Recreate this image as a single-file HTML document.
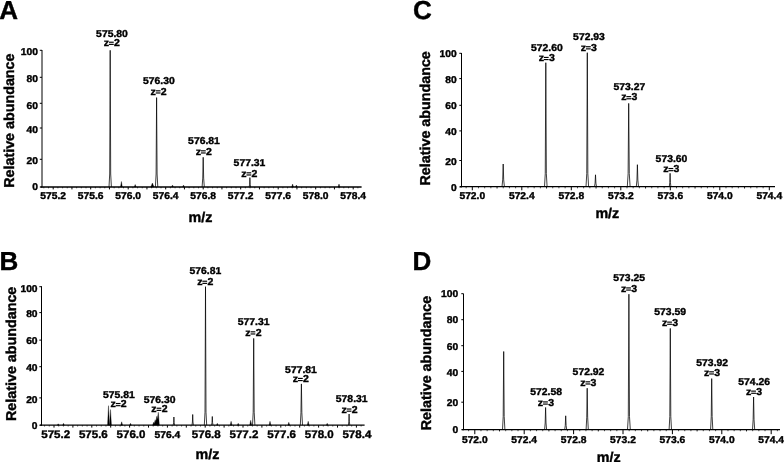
<!DOCTYPE html>
<html>
<head>
<meta charset="utf-8">
<title>Mass spectra</title>
<style>
html, body { margin: 0; padding: 0; background: #fff; }
body { width: 784px; height: 462px; overflow: hidden; font-family: "Liberation Sans", sans-serif; }
svg { display: block; will-change: transform; }
svg text { font-family: "Liberation Sans", sans-serif; font-weight: bold; fill: #000; stroke: #000; stroke-width: 0.4px; text-rendering: geometricPrecision; }
</style>
</head>
<body>
<svg width="784" height="462" viewBox="0 0 784 462">
<rect x="0" y="0" width="784" height="462" fill="#fff"/>
<text x="-0.8" y="19.2" font-size="26" stroke-width="0.6">A</text>
<line x1="42" y1="50" x2="42" y2="187.6" stroke="#000" stroke-width="1"/>
<line x1="40.5" y1="187" x2="361.6" y2="187" stroke="#000" stroke-width="1.3"/>
<line x1="39.8" y1="50.3" x2="42" y2="50.3" stroke="#000" stroke-width="1"/>
<text transform="translate(38,54.6) scale(1,0.96)" font-size="10.3" text-anchor="end">100</text>
<line x1="39.8" y1="77.3" x2="42" y2="77.3" stroke="#000" stroke-width="1"/>
<text transform="translate(38,81.9) scale(1,0.96)" font-size="10.3" text-anchor="end">80</text>
<line x1="39.8" y1="103.3" x2="42" y2="103.3" stroke="#000" stroke-width="1"/>
<text transform="translate(38,108.7) scale(1,0.96)" font-size="10.3" text-anchor="end">60</text>
<line x1="39.8" y1="128" x2="42" y2="128" stroke="#000" stroke-width="1"/>
<text transform="translate(38,133) scale(1,0.96)" font-size="10.3" text-anchor="end">40</text>
<line x1="39.8" y1="159.3" x2="42" y2="159.3" stroke="#000" stroke-width="1"/>
<text transform="translate(38,164.4) scale(1,0.96)" font-size="10.3" text-anchor="end">20</text>
<line x1="39.8" y1="187" x2="42" y2="187" stroke="#000" stroke-width="1"/>
<text transform="translate(38,190.4) scale(1,0.96)" font-size="10.3" text-anchor="end">0</text>
<text transform="translate(53.2,199) scale(1,0.96)" font-size="10.3" text-anchor="middle">575.2</text>
<text transform="translate(90.7,199) scale(1,0.96)" font-size="10.3" text-anchor="middle">575.6</text>
<text transform="translate(128.2,199) scale(1,0.96)" font-size="10.3" text-anchor="middle">576.0</text>
<text transform="translate(165.7,199) scale(1,0.96)" font-size="10.3" text-anchor="middle">576.4</text>
<text transform="translate(203.2,199) scale(1,0.96)" font-size="10.3" text-anchor="middle">576.8</text>
<text transform="translate(240.7,199) scale(1,0.96)" font-size="10.3" text-anchor="middle">577.2</text>
<text transform="translate(278.2,199) scale(1,0.96)" font-size="10.3" text-anchor="middle">577.6</text>
<text transform="translate(315.7,199) scale(1,0.96)" font-size="10.3" text-anchor="middle">578.0</text>
<text transform="translate(353.2,199) scale(1,0.96)" font-size="10.3" text-anchor="middle">578.4</text>
<line x1="43.83" y1="187" x2="43.83" y2="188.3" stroke="#000" stroke-width="0.7"/>
<line x1="48.51" y1="187" x2="48.51" y2="188.3" stroke="#000" stroke-width="0.7"/>
<line x1="53.2" y1="187" x2="53.2" y2="189.4" stroke="#000" stroke-width="1.0"/>
<line x1="57.89" y1="187" x2="57.89" y2="188.3" stroke="#000" stroke-width="0.7"/>
<line x1="62.58" y1="187" x2="62.58" y2="188.3" stroke="#000" stroke-width="0.7"/>
<line x1="67.26" y1="187" x2="67.26" y2="188.3" stroke="#000" stroke-width="0.7"/>
<line x1="71.95" y1="187" x2="71.95" y2="189.4" stroke="#000" stroke-width="1.0"/>
<line x1="76.64" y1="187" x2="76.64" y2="188.3" stroke="#000" stroke-width="0.7"/>
<line x1="81.33" y1="187" x2="81.33" y2="188.3" stroke="#000" stroke-width="0.7"/>
<line x1="86.01" y1="187" x2="86.01" y2="188.3" stroke="#000" stroke-width="0.7"/>
<line x1="90.7" y1="187" x2="90.7" y2="189.4" stroke="#000" stroke-width="1.0"/>
<line x1="95.39" y1="187" x2="95.39" y2="188.3" stroke="#000" stroke-width="0.7"/>
<line x1="100.08" y1="187" x2="100.08" y2="188.3" stroke="#000" stroke-width="0.7"/>
<line x1="104.76" y1="187" x2="104.76" y2="188.3" stroke="#000" stroke-width="0.7"/>
<line x1="109.45" y1="187" x2="109.45" y2="189.4" stroke="#000" stroke-width="1.0"/>
<line x1="114.14" y1="187" x2="114.14" y2="188.3" stroke="#000" stroke-width="0.7"/>
<line x1="118.83" y1="187" x2="118.83" y2="188.3" stroke="#000" stroke-width="0.7"/>
<line x1="123.51" y1="187" x2="123.51" y2="188.3" stroke="#000" stroke-width="0.7"/>
<line x1="128.2" y1="187" x2="128.2" y2="189.4" stroke="#000" stroke-width="1.0"/>
<line x1="132.89" y1="187" x2="132.89" y2="188.3" stroke="#000" stroke-width="0.7"/>
<line x1="137.57" y1="187" x2="137.57" y2="188.3" stroke="#000" stroke-width="0.7"/>
<line x1="142.26" y1="187" x2="142.26" y2="188.3" stroke="#000" stroke-width="0.7"/>
<line x1="146.95" y1="187" x2="146.95" y2="189.4" stroke="#000" stroke-width="1.0"/>
<line x1="151.64" y1="187" x2="151.64" y2="188.3" stroke="#000" stroke-width="0.7"/>
<line x1="156.32" y1="187" x2="156.32" y2="188.3" stroke="#000" stroke-width="0.7"/>
<line x1="161.01" y1="187" x2="161.01" y2="188.3" stroke="#000" stroke-width="0.7"/>
<line x1="165.7" y1="187" x2="165.7" y2="189.4" stroke="#000" stroke-width="1.0"/>
<line x1="170.39" y1="187" x2="170.39" y2="188.3" stroke="#000" stroke-width="0.7"/>
<line x1="175.07" y1="187" x2="175.07" y2="188.3" stroke="#000" stroke-width="0.7"/>
<line x1="179.76" y1="187" x2="179.76" y2="188.3" stroke="#000" stroke-width="0.7"/>
<line x1="184.45" y1="187" x2="184.45" y2="189.4" stroke="#000" stroke-width="1.0"/>
<line x1="189.14" y1="187" x2="189.14" y2="188.3" stroke="#000" stroke-width="0.7"/>
<line x1="193.82" y1="187" x2="193.82" y2="188.3" stroke="#000" stroke-width="0.7"/>
<line x1="198.51" y1="187" x2="198.51" y2="188.3" stroke="#000" stroke-width="0.7"/>
<line x1="203.2" y1="187" x2="203.2" y2="189.4" stroke="#000" stroke-width="1.0"/>
<line x1="207.89" y1="187" x2="207.89" y2="188.3" stroke="#000" stroke-width="0.7"/>
<line x1="212.57" y1="187" x2="212.57" y2="188.3" stroke="#000" stroke-width="0.7"/>
<line x1="217.26" y1="187" x2="217.26" y2="188.3" stroke="#000" stroke-width="0.7"/>
<line x1="221.95" y1="187" x2="221.95" y2="189.4" stroke="#000" stroke-width="1.0"/>
<line x1="226.64" y1="187" x2="226.64" y2="188.3" stroke="#000" stroke-width="0.7"/>
<line x1="231.32" y1="187" x2="231.32" y2="188.3" stroke="#000" stroke-width="0.7"/>
<line x1="236.01" y1="187" x2="236.01" y2="188.3" stroke="#000" stroke-width="0.7"/>
<line x1="240.7" y1="187" x2="240.7" y2="189.4" stroke="#000" stroke-width="1.0"/>
<line x1="245.39" y1="187" x2="245.39" y2="188.3" stroke="#000" stroke-width="0.7"/>
<line x1="250.07" y1="187" x2="250.07" y2="188.3" stroke="#000" stroke-width="0.7"/>
<line x1="254.76" y1="187" x2="254.76" y2="188.3" stroke="#000" stroke-width="0.7"/>
<line x1="259.45" y1="187" x2="259.45" y2="189.4" stroke="#000" stroke-width="1.0"/>
<line x1="264.14" y1="187" x2="264.14" y2="188.3" stroke="#000" stroke-width="0.7"/>
<line x1="268.82" y1="187" x2="268.82" y2="188.3" stroke="#000" stroke-width="0.7"/>
<line x1="273.51" y1="187" x2="273.51" y2="188.3" stroke="#000" stroke-width="0.7"/>
<line x1="278.2" y1="187" x2="278.2" y2="189.4" stroke="#000" stroke-width="1.0"/>
<line x1="282.89" y1="187" x2="282.89" y2="188.3" stroke="#000" stroke-width="0.7"/>
<line x1="287.57" y1="187" x2="287.57" y2="188.3" stroke="#000" stroke-width="0.7"/>
<line x1="292.26" y1="187" x2="292.26" y2="188.3" stroke="#000" stroke-width="0.7"/>
<line x1="296.95" y1="187" x2="296.95" y2="189.4" stroke="#000" stroke-width="1.0"/>
<line x1="301.64" y1="187" x2="301.64" y2="188.3" stroke="#000" stroke-width="0.7"/>
<line x1="306.32" y1="187" x2="306.32" y2="188.3" stroke="#000" stroke-width="0.7"/>
<line x1="311.01" y1="187" x2="311.01" y2="188.3" stroke="#000" stroke-width="0.7"/>
<line x1="315.7" y1="187" x2="315.7" y2="189.4" stroke="#000" stroke-width="1.0"/>
<line x1="320.39" y1="187" x2="320.39" y2="188.3" stroke="#000" stroke-width="0.7"/>
<line x1="325.07" y1="187" x2="325.07" y2="188.3" stroke="#000" stroke-width="0.7"/>
<line x1="329.76" y1="187" x2="329.76" y2="188.3" stroke="#000" stroke-width="0.7"/>
<line x1="334.45" y1="187" x2="334.45" y2="189.4" stroke="#000" stroke-width="1.0"/>
<line x1="339.14" y1="187" x2="339.14" y2="188.3" stroke="#000" stroke-width="0.7"/>
<line x1="343.82" y1="187" x2="343.82" y2="188.3" stroke="#000" stroke-width="0.7"/>
<line x1="348.51" y1="187" x2="348.51" y2="188.3" stroke="#000" stroke-width="0.7"/>
<line x1="353.2" y1="187" x2="353.2" y2="189.4" stroke="#000" stroke-width="1.0"/>
<line x1="357.89" y1="187" x2="357.89" y2="188.3" stroke="#000" stroke-width="0.7"/>
<text x="188.5" y="221.6" font-size="14.3">m/z</text>
<text transform="translate(14.3,187.8) rotate(-90)" font-size="14.3">Relative abundance</text>
<g>
<path d="M109,187 L109.7,174 L110.2,50.3 L110.7,174 L111.4,187" fill="none" stroke="#000" stroke-width="0.75" stroke-linejoin="miter" stroke-miterlimit="4"/>
<path d="M155.4,187 L156.1,174 L156.6,97.6 L157.1,174 L157.8,187" fill="none" stroke="#000" stroke-width="0.75" stroke-linejoin="miter" stroke-miterlimit="4"/>
<path d="M202.1,187 L202.74,178.09 L203.2,157.3 L203.66,178.09 L204.3,187" fill="none" stroke="#000" stroke-width="0.75" stroke-linejoin="miter" stroke-miterlimit="4"/>
<path d="M249.2,187 L249.61,184.18 L249.9,177.6 L250.19,184.18 L250.6,187" fill="none" stroke="#000" stroke-width="0.75" stroke-linejoin="miter" stroke-miterlimit="4"/>
<polygon points="120.5,187 121.4,181.5 122.3,187" fill="#000" stroke="#000" stroke-width="0.35"/>
<polygon points="134.3,187 135.2,184.5 136.1,187" fill="#000" stroke="#000" stroke-width="0.35"/>
<polygon points="150.8,187 152.4,183 154,187" fill="#000" stroke="#000" stroke-width="0.35"/>
<polygon points="171.7,187 172.5,185 173.3,187" fill="#000" stroke="#000" stroke-width="0.35"/>
<polygon points="182.7,187 183.5,185 184.3,187" fill="#000" stroke="#000" stroke-width="0.35"/>
<polygon points="291.7,187 292.6,184 293.5,187" fill="#000" stroke="#000" stroke-width="0.35"/>
<polygon points="295.6,187 296.4,185 297.2,187" fill="#000" stroke="#000" stroke-width="0.35"/>
<polygon points="338.1,187 339,184 339.9,187" fill="#000" stroke="#000" stroke-width="0.35"/>
</g>
<text transform="translate(112,36.5) scale(1,0.96)" font-size="10.4" text-anchor="middle">575.80</text>
<text transform="translate(103.75,46) scale(1,0.96)" font-size="10.5">z</text>
<rect x="108.95" y="41.65" width="4.8" height="1.15" fill="#000"/>
<rect x="108.95" y="43.8" width="4.8" height="1.15" fill="#000"/>
<text transform="translate(114.05,46) scale(1,0.96)" font-size="10.5">2</text>
<text transform="translate(158.8,83.8) scale(1,0.96)" font-size="10.4" text-anchor="middle">576.30</text>
<text transform="translate(150.55,94.6) scale(1,0.96)" font-size="10.5">z</text>
<rect x="155.75" y="90.25" width="4.8" height="1.15" fill="#000"/>
<rect x="155.75" y="92.4" width="4.8" height="1.15" fill="#000"/>
<text transform="translate(160.85,94.6) scale(1,0.96)" font-size="10.5">2</text>
<text transform="translate(204,144) scale(1,0.96)" font-size="10.4" text-anchor="middle">576.81</text>
<text transform="translate(195.75,154.6) scale(1,0.96)" font-size="10.5">z</text>
<rect x="200.95" y="150.25" width="4.8" height="1.15" fill="#000"/>
<rect x="200.95" y="152.4" width="4.8" height="1.15" fill="#000"/>
<text transform="translate(206.05,154.6) scale(1,0.96)" font-size="10.5">2</text>
<text transform="translate(249.5,166.1) scale(1,0.96)" font-size="10.4" text-anchor="middle">577.31</text>
<text transform="translate(241.25,176.6) scale(1,0.96)" font-size="10.5">z</text>
<rect x="246.45" y="172.25" width="4.8" height="1.15" fill="#000"/>
<rect x="246.45" y="174.4" width="4.8" height="1.15" fill="#000"/>
<text transform="translate(251.55,176.6) scale(1,0.96)" font-size="10.5">2</text>
<text x="413.1" y="19.2" font-size="26" stroke-width="0.6">C</text>
<line x1="461.5" y1="53" x2="461.5" y2="187.3" stroke="#000" stroke-width="1"/>
<line x1="460" y1="186.7" x2="775" y2="186.7" stroke="#000" stroke-width="1.3"/>
<line x1="459.3" y1="53.3" x2="461.5" y2="53.3" stroke="#000" stroke-width="1"/>
<text transform="translate(456.7,56.8) scale(1,0.96)" font-size="10.3" text-anchor="end">100</text>
<line x1="459.3" y1="78.6" x2="461.5" y2="78.6" stroke="#000" stroke-width="1"/>
<text transform="translate(456.7,82.6) scale(1,0.96)" font-size="10.3" text-anchor="end">80</text>
<line x1="459.3" y1="105.3" x2="461.5" y2="105.3" stroke="#000" stroke-width="1"/>
<text transform="translate(456.7,109.2) scale(1,0.96)" font-size="10.3" text-anchor="end">60</text>
<line x1="459.3" y1="130.9" x2="461.5" y2="130.9" stroke="#000" stroke-width="1"/>
<text transform="translate(456.7,135.3) scale(1,0.96)" font-size="10.3" text-anchor="end">40</text>
<line x1="459.3" y1="160.5" x2="461.5" y2="160.5" stroke="#000" stroke-width="1"/>
<text transform="translate(456.7,164.6) scale(1,0.96)" font-size="10.3" text-anchor="end">20</text>
<line x1="459.3" y1="186.9" x2="461.5" y2="186.9" stroke="#000" stroke-width="1"/>
<text transform="translate(456.7,190.6) scale(1,0.96)" font-size="10.3" text-anchor="end">0</text>
<text transform="translate(472.3,198.7) scale(1,0.96)" font-size="10.3" text-anchor="middle">572.0</text>
<text transform="translate(521.8,198.7) scale(1,0.96)" font-size="10.3" text-anchor="middle">572.4</text>
<text transform="translate(571.3,198.7) scale(1,0.96)" font-size="10.3" text-anchor="middle">572.8</text>
<text transform="translate(620.8,198.7) scale(1,0.96)" font-size="10.3" text-anchor="middle">573.2</text>
<text transform="translate(670.3,198.7) scale(1,0.96)" font-size="10.3" text-anchor="middle">573.6</text>
<text transform="translate(719.8,198.7) scale(1,0.96)" font-size="10.3" text-anchor="middle">574.0</text>
<text transform="translate(769.3,198.7) scale(1,0.96)" font-size="10.3" text-anchor="middle">574.4</text>
<line x1="466.11" y1="186.7" x2="466.11" y2="188.3" stroke="#000" stroke-width="0.7"/>
<line x1="472.3" y1="186.7" x2="472.3" y2="190.3" stroke="#000" stroke-width="1.0"/>
<line x1="478.49" y1="186.7" x2="478.49" y2="188.3" stroke="#000" stroke-width="0.7"/>
<line x1="484.68" y1="186.7" x2="484.68" y2="188.3" stroke="#000" stroke-width="0.7"/>
<line x1="490.86" y1="186.7" x2="490.86" y2="188.3" stroke="#000" stroke-width="0.7"/>
<line x1="497.05" y1="186.7" x2="497.05" y2="188.5" stroke="#000" stroke-width="0.9"/>
<line x1="503.24" y1="186.7" x2="503.24" y2="188.3" stroke="#000" stroke-width="0.7"/>
<line x1="509.43" y1="186.7" x2="509.43" y2="188.3" stroke="#000" stroke-width="0.7"/>
<line x1="515.61" y1="186.7" x2="515.61" y2="188.3" stroke="#000" stroke-width="0.7"/>
<line x1="521.8" y1="186.7" x2="521.8" y2="190.3" stroke="#000" stroke-width="1.0"/>
<line x1="527.99" y1="186.7" x2="527.99" y2="188.3" stroke="#000" stroke-width="0.7"/>
<line x1="534.17" y1="186.7" x2="534.17" y2="188.3" stroke="#000" stroke-width="0.7"/>
<line x1="540.36" y1="186.7" x2="540.36" y2="188.3" stroke="#000" stroke-width="0.7"/>
<line x1="546.55" y1="186.7" x2="546.55" y2="188.5" stroke="#000" stroke-width="0.9"/>
<line x1="552.74" y1="186.7" x2="552.74" y2="188.3" stroke="#000" stroke-width="0.7"/>
<line x1="558.92" y1="186.7" x2="558.92" y2="188.3" stroke="#000" stroke-width="0.7"/>
<line x1="565.11" y1="186.7" x2="565.11" y2="188.3" stroke="#000" stroke-width="0.7"/>
<line x1="571.3" y1="186.7" x2="571.3" y2="190.3" stroke="#000" stroke-width="1.0"/>
<line x1="577.49" y1="186.7" x2="577.49" y2="188.3" stroke="#000" stroke-width="0.7"/>
<line x1="583.67" y1="186.7" x2="583.67" y2="188.3" stroke="#000" stroke-width="0.7"/>
<line x1="589.86" y1="186.7" x2="589.86" y2="188.3" stroke="#000" stroke-width="0.7"/>
<line x1="596.05" y1="186.7" x2="596.05" y2="188.5" stroke="#000" stroke-width="0.9"/>
<line x1="602.24" y1="186.7" x2="602.24" y2="188.3" stroke="#000" stroke-width="0.7"/>
<line x1="608.42" y1="186.7" x2="608.42" y2="188.3" stroke="#000" stroke-width="0.7"/>
<line x1="614.61" y1="186.7" x2="614.61" y2="188.3" stroke="#000" stroke-width="0.7"/>
<line x1="620.8" y1="186.7" x2="620.8" y2="190.3" stroke="#000" stroke-width="1.0"/>
<line x1="626.99" y1="186.7" x2="626.99" y2="188.3" stroke="#000" stroke-width="0.7"/>
<line x1="633.17" y1="186.7" x2="633.17" y2="188.3" stroke="#000" stroke-width="0.7"/>
<line x1="639.36" y1="186.7" x2="639.36" y2="188.3" stroke="#000" stroke-width="0.7"/>
<line x1="645.55" y1="186.7" x2="645.55" y2="188.5" stroke="#000" stroke-width="0.9"/>
<line x1="651.74" y1="186.7" x2="651.74" y2="188.3" stroke="#000" stroke-width="0.7"/>
<line x1="657.92" y1="186.7" x2="657.92" y2="188.3" stroke="#000" stroke-width="0.7"/>
<line x1="664.11" y1="186.7" x2="664.11" y2="188.3" stroke="#000" stroke-width="0.7"/>
<line x1="670.3" y1="186.7" x2="670.3" y2="190.3" stroke="#000" stroke-width="1.0"/>
<line x1="676.49" y1="186.7" x2="676.49" y2="188.3" stroke="#000" stroke-width="0.7"/>
<line x1="682.67" y1="186.7" x2="682.67" y2="188.3" stroke="#000" stroke-width="0.7"/>
<line x1="688.86" y1="186.7" x2="688.86" y2="188.3" stroke="#000" stroke-width="0.7"/>
<line x1="695.05" y1="186.7" x2="695.05" y2="188.5" stroke="#000" stroke-width="0.9"/>
<line x1="701.24" y1="186.7" x2="701.24" y2="188.3" stroke="#000" stroke-width="0.7"/>
<line x1="707.42" y1="186.7" x2="707.42" y2="188.3" stroke="#000" stroke-width="0.7"/>
<line x1="713.61" y1="186.7" x2="713.61" y2="188.3" stroke="#000" stroke-width="0.7"/>
<line x1="719.8" y1="186.7" x2="719.8" y2="190.3" stroke="#000" stroke-width="1.0"/>
<line x1="725.99" y1="186.7" x2="725.99" y2="188.3" stroke="#000" stroke-width="0.7"/>
<line x1="732.17" y1="186.7" x2="732.17" y2="188.3" stroke="#000" stroke-width="0.7"/>
<line x1="738.36" y1="186.7" x2="738.36" y2="188.3" stroke="#000" stroke-width="0.7"/>
<line x1="744.55" y1="186.7" x2="744.55" y2="188.5" stroke="#000" stroke-width="0.9"/>
<line x1="750.74" y1="186.7" x2="750.74" y2="188.3" stroke="#000" stroke-width="0.7"/>
<line x1="756.92" y1="186.7" x2="756.92" y2="188.3" stroke="#000" stroke-width="0.7"/>
<line x1="763.11" y1="186.7" x2="763.11" y2="188.3" stroke="#000" stroke-width="0.7"/>
<line x1="769.3" y1="186.7" x2="769.3" y2="190.3" stroke="#000" stroke-width="1.0"/>
<text x="595.4" y="217.5" font-size="14.3">m/z</text>
<text transform="translate(430.4,185.5) rotate(-90)" font-size="14.3">Relative abundance</text>
<g>
<path d="M502,186.7 L502.7,179.89 L503.2,164 L503.7,179.89 L504.4,186.7" fill="none" stroke="#000" stroke-width="0.75" stroke-linejoin="miter" stroke-miterlimit="4"/>
<path d="M544.5,186.7 L545.25,173.7 L545.8,62.7 L546.35,173.7 L547.1,186.7" fill="none" stroke="#000" stroke-width="0.75" stroke-linejoin="miter" stroke-miterlimit="4"/>
<path d="M586,186.7 L586.75,173.7 L587.3,52.7 L587.85,173.7 L588.6,186.7" fill="none" stroke="#000" stroke-width="0.75" stroke-linejoin="miter" stroke-miterlimit="4"/>
<path d="M594.5,186.7 L595.08,183.13 L595.5,174.8 L595.92,183.13 L596.5,186.7" fill="none" stroke="#000" stroke-width="0.75" stroke-linejoin="miter" stroke-miterlimit="4"/>
<path d="M627.3,186.7 L628.11,173.7 L628.7,103.4 L629.29,173.7 L630.1,186.7" fill="none" stroke="#000" stroke-width="0.75" stroke-linejoin="miter" stroke-miterlimit="4"/>
<path d="M636.3,186.7 L636.94,180.1 L637.4,164.7 L637.86,180.1 L638.5,186.7" fill="none" stroke="#000" stroke-width="0.75" stroke-linejoin="miter" stroke-miterlimit="4"/>
<path d="M669.3,186.7 L669.76,182.68 L670.1,173.3 L670.44,182.68 L670.9,186.7" fill="none" stroke="#000" stroke-width="0.75" stroke-linejoin="miter" stroke-miterlimit="4"/>
</g>
<text transform="translate(546.9,50.7) scale(1,0.96)" font-size="10.4" text-anchor="middle">572.60</text>
<text transform="translate(538.65,61.2) scale(1,0.96)" font-size="10.5">z</text>
<rect x="543.85" y="56.85" width="4.8" height="1.15" fill="#000"/>
<rect x="543.85" y="59" width="4.8" height="1.15" fill="#000"/>
<text transform="translate(548.95,61.2) scale(1,0.96)" font-size="10.5">3</text>
<text transform="translate(589,40) scale(1,0.96)" font-size="10.4" text-anchor="middle">572.93</text>
<text transform="translate(580.75,50.5) scale(1,0.96)" font-size="10.5">z</text>
<rect x="585.95" y="46.15" width="4.8" height="1.15" fill="#000"/>
<rect x="585.95" y="48.3" width="4.8" height="1.15" fill="#000"/>
<text transform="translate(591.05,50.5) scale(1,0.96)" font-size="10.5">3</text>
<text transform="translate(629.4,89.8) scale(1,0.96)" font-size="10.4" text-anchor="middle">573.27</text>
<text transform="translate(621.15,100.4) scale(1,0.96)" font-size="10.5">z</text>
<rect x="626.35" y="96.05" width="4.8" height="1.15" fill="#000"/>
<rect x="626.35" y="98.2" width="4.8" height="1.15" fill="#000"/>
<text transform="translate(631.45,100.4) scale(1,0.96)" font-size="10.5">3</text>
<text transform="translate(671.5,161.5) scale(1,0.96)" font-size="10.4" text-anchor="middle">573.60</text>
<text transform="translate(663.25,172.3) scale(1,0.96)" font-size="10.5">z</text>
<rect x="668.45" y="167.95" width="4.8" height="1.15" fill="#000"/>
<rect x="668.45" y="170.1" width="4.8" height="1.15" fill="#000"/>
<text transform="translate(673.55,172.3) scale(1,0.96)" font-size="10.5">3</text>
<text x="-0.6" y="270.4" font-size="26" stroke-width="0.6">B</text>
<line x1="41.5" y1="286.2" x2="41.5" y2="425.8" stroke="#000" stroke-width="1"/>
<line x1="40" y1="425.2" x2="364.6" y2="425.2" stroke="#000" stroke-width="1.3"/>
<line x1="39.3" y1="286.7" x2="41.5" y2="286.7" stroke="#000" stroke-width="1"/>
<text transform="translate(37.6,291.5) scale(1,0.96)" font-size="10.3" text-anchor="end">100</text>
<line x1="39.3" y1="312.6" x2="41.5" y2="312.6" stroke="#000" stroke-width="1"/>
<text transform="translate(37.6,317) scale(1,0.96)" font-size="10.3" text-anchor="end">80</text>
<line x1="39.3" y1="340.1" x2="41.5" y2="340.1" stroke="#000" stroke-width="1"/>
<text transform="translate(37.6,344.4) scale(1,0.96)" font-size="10.3" text-anchor="end">60</text>
<line x1="39.3" y1="366.7" x2="41.5" y2="366.7" stroke="#000" stroke-width="1"/>
<text transform="translate(37.6,371) scale(1,0.96)" font-size="10.3" text-anchor="end">40</text>
<line x1="39.3" y1="397.9" x2="41.5" y2="397.9" stroke="#000" stroke-width="1"/>
<text transform="translate(37.6,402.6) scale(1,0.96)" font-size="10.3" text-anchor="end">20</text>
<line x1="39.3" y1="425.2" x2="41.5" y2="425.2" stroke="#000" stroke-width="1"/>
<text transform="translate(37.6,428.9) scale(1,0.96)" font-size="10.3" text-anchor="end">0</text>
<text transform="translate(41.24,437.5) scale(1,0.96)" font-size="11.55">575.2</text>
<text transform="translate(78.89,437.5) scale(1,0.96)" font-size="11.55">575.6</text>
<text transform="translate(116.54,437.5) scale(1,0.96)" font-size="11.55">576.0</text>
<text transform="translate(154.54,437.5) scale(1,0.96)" font-size="10.3">576.4</text>
<text transform="translate(191.84,437.5) scale(1,0.96)" font-size="11.55">576.8</text>
<text transform="translate(229.49,437.5) scale(1,0.96)" font-size="11.55">577.2</text>
<text transform="translate(267.14,437.5) scale(1,0.96)" font-size="11.55">577.6</text>
<text transform="translate(304.79,437.5) scale(1,0.96)" font-size="11.55">578.0</text>
<text transform="translate(342.44,437.5) scale(1,0.96)" font-size="11.55">578.4</text>
<line x1="44.55" y1="425.2" x2="44.55" y2="426.5" stroke="#000" stroke-width="0.7"/>
<line x1="49.27" y1="425.2" x2="49.27" y2="426.5" stroke="#000" stroke-width="0.7"/>
<line x1="54" y1="425.2" x2="54" y2="427.6" stroke="#000" stroke-width="1.0"/>
<line x1="58.73" y1="425.2" x2="58.73" y2="426.5" stroke="#000" stroke-width="0.7"/>
<line x1="63.45" y1="425.2" x2="63.45" y2="426.5" stroke="#000" stroke-width="0.7"/>
<line x1="68.17" y1="425.2" x2="68.17" y2="426.5" stroke="#000" stroke-width="0.7"/>
<line x1="72.9" y1="425.2" x2="72.9" y2="427.6" stroke="#000" stroke-width="1.0"/>
<line x1="77.62" y1="425.2" x2="77.62" y2="426.5" stroke="#000" stroke-width="0.7"/>
<line x1="82.35" y1="425.2" x2="82.35" y2="426.5" stroke="#000" stroke-width="0.7"/>
<line x1="87.07" y1="425.2" x2="87.07" y2="426.5" stroke="#000" stroke-width="0.7"/>
<line x1="91.8" y1="425.2" x2="91.8" y2="427.6" stroke="#000" stroke-width="1.0"/>
<line x1="96.53" y1="425.2" x2="96.53" y2="426.5" stroke="#000" stroke-width="0.7"/>
<line x1="101.25" y1="425.2" x2="101.25" y2="426.5" stroke="#000" stroke-width="0.7"/>
<line x1="105.97" y1="425.2" x2="105.97" y2="426.5" stroke="#000" stroke-width="0.7"/>
<line x1="110.7" y1="425.2" x2="110.7" y2="427.6" stroke="#000" stroke-width="1.0"/>
<line x1="115.42" y1="425.2" x2="115.42" y2="426.5" stroke="#000" stroke-width="0.7"/>
<line x1="120.15" y1="425.2" x2="120.15" y2="426.5" stroke="#000" stroke-width="0.7"/>
<line x1="124.88" y1="425.2" x2="124.88" y2="426.5" stroke="#000" stroke-width="0.7"/>
<line x1="129.6" y1="425.2" x2="129.6" y2="427.6" stroke="#000" stroke-width="1.0"/>
<line x1="134.32" y1="425.2" x2="134.32" y2="426.5" stroke="#000" stroke-width="0.7"/>
<line x1="139.05" y1="425.2" x2="139.05" y2="426.5" stroke="#000" stroke-width="0.7"/>
<line x1="143.77" y1="425.2" x2="143.77" y2="426.5" stroke="#000" stroke-width="0.7"/>
<line x1="148.5" y1="425.2" x2="148.5" y2="427.6" stroke="#000" stroke-width="1.0"/>
<line x1="153.22" y1="425.2" x2="153.22" y2="426.5" stroke="#000" stroke-width="0.7"/>
<line x1="157.95" y1="425.2" x2="157.95" y2="426.5" stroke="#000" stroke-width="0.7"/>
<line x1="162.68" y1="425.2" x2="162.68" y2="426.5" stroke="#000" stroke-width="0.7"/>
<line x1="167.4" y1="425.2" x2="167.4" y2="427.6" stroke="#000" stroke-width="1.0"/>
<line x1="172.12" y1="425.2" x2="172.12" y2="426.5" stroke="#000" stroke-width="0.7"/>
<line x1="176.85" y1="425.2" x2="176.85" y2="426.5" stroke="#000" stroke-width="0.7"/>
<line x1="181.57" y1="425.2" x2="181.57" y2="426.5" stroke="#000" stroke-width="0.7"/>
<line x1="186.3" y1="425.2" x2="186.3" y2="427.6" stroke="#000" stroke-width="1.0"/>
<line x1="191.02" y1="425.2" x2="191.02" y2="426.5" stroke="#000" stroke-width="0.7"/>
<line x1="195.75" y1="425.2" x2="195.75" y2="426.5" stroke="#000" stroke-width="0.7"/>
<line x1="200.47" y1="425.2" x2="200.47" y2="426.5" stroke="#000" stroke-width="0.7"/>
<line x1="205.2" y1="425.2" x2="205.2" y2="427.6" stroke="#000" stroke-width="1.0"/>
<line x1="209.92" y1="425.2" x2="209.92" y2="426.5" stroke="#000" stroke-width="0.7"/>
<line x1="214.65" y1="425.2" x2="214.65" y2="426.5" stroke="#000" stroke-width="0.7"/>
<line x1="219.38" y1="425.2" x2="219.38" y2="426.5" stroke="#000" stroke-width="0.7"/>
<line x1="224.1" y1="425.2" x2="224.1" y2="427.6" stroke="#000" stroke-width="1.0"/>
<line x1="228.82" y1="425.2" x2="228.82" y2="426.5" stroke="#000" stroke-width="0.7"/>
<line x1="233.55" y1="425.2" x2="233.55" y2="426.5" stroke="#000" stroke-width="0.7"/>
<line x1="238.27" y1="425.2" x2="238.27" y2="426.5" stroke="#000" stroke-width="0.7"/>
<line x1="243" y1="425.2" x2="243" y2="427.6" stroke="#000" stroke-width="1.0"/>
<line x1="247.72" y1="425.2" x2="247.72" y2="426.5" stroke="#000" stroke-width="0.7"/>
<line x1="252.45" y1="425.2" x2="252.45" y2="426.5" stroke="#000" stroke-width="0.7"/>
<line x1="257.17" y1="425.2" x2="257.17" y2="426.5" stroke="#000" stroke-width="0.7"/>
<line x1="261.9" y1="425.2" x2="261.9" y2="427.6" stroke="#000" stroke-width="1.0"/>
<line x1="266.62" y1="425.2" x2="266.62" y2="426.5" stroke="#000" stroke-width="0.7"/>
<line x1="271.35" y1="425.2" x2="271.35" y2="426.5" stroke="#000" stroke-width="0.7"/>
<line x1="276.07" y1="425.2" x2="276.07" y2="426.5" stroke="#000" stroke-width="0.7"/>
<line x1="280.8" y1="425.2" x2="280.8" y2="427.6" stroke="#000" stroke-width="1.0"/>
<line x1="285.52" y1="425.2" x2="285.52" y2="426.5" stroke="#000" stroke-width="0.7"/>
<line x1="290.25" y1="425.2" x2="290.25" y2="426.5" stroke="#000" stroke-width="0.7"/>
<line x1="294.98" y1="425.2" x2="294.98" y2="426.5" stroke="#000" stroke-width="0.7"/>
<line x1="299.7" y1="425.2" x2="299.7" y2="427.6" stroke="#000" stroke-width="1.0"/>
<line x1="304.42" y1="425.2" x2="304.42" y2="426.5" stroke="#000" stroke-width="0.7"/>
<line x1="309.15" y1="425.2" x2="309.15" y2="426.5" stroke="#000" stroke-width="0.7"/>
<line x1="313.88" y1="425.2" x2="313.88" y2="426.5" stroke="#000" stroke-width="0.7"/>
<line x1="318.6" y1="425.2" x2="318.6" y2="427.6" stroke="#000" stroke-width="1.0"/>
<line x1="323.32" y1="425.2" x2="323.32" y2="426.5" stroke="#000" stroke-width="0.7"/>
<line x1="328.05" y1="425.2" x2="328.05" y2="426.5" stroke="#000" stroke-width="0.7"/>
<line x1="332.77" y1="425.2" x2="332.77" y2="426.5" stroke="#000" stroke-width="0.7"/>
<line x1="337.5" y1="425.2" x2="337.5" y2="427.6" stroke="#000" stroke-width="1.0"/>
<line x1="342.22" y1="425.2" x2="342.22" y2="426.5" stroke="#000" stroke-width="0.7"/>
<line x1="346.95" y1="425.2" x2="346.95" y2="426.5" stroke="#000" stroke-width="0.7"/>
<line x1="351.67" y1="425.2" x2="351.67" y2="426.5" stroke="#000" stroke-width="0.7"/>
<line x1="356.4" y1="425.2" x2="356.4" y2="427.6" stroke="#000" stroke-width="1.0"/>
<line x1="361.12" y1="425.2" x2="361.12" y2="426.5" stroke="#000" stroke-width="0.7"/>
<text x="195.6" y="458.5" font-size="14.3">m/z</text>
<text transform="translate(15.6,421) rotate(-90)" font-size="14.3">Relative abundance</text>
<g>
<polygon points="107.55,425.2 108.5,405.7 109.45,425.2" fill="#000" stroke="#000" stroke-width="0.35"/>
<polygon points="109.55,425.2 110.5,409.6 111.45,425.2" fill="#000" stroke="#000" stroke-width="0.35"/>
<polygon points="120.8,425.2 121.7,421.8 122.6,425.2" fill="#000" stroke="#000" stroke-width="0.35"/>
<polygon points="129.7,425.2 130.5,423.3 131.3,425.2" fill="#000" stroke="#000" stroke-width="0.35"/>
<polygon points="57.4,425.2 58.2,423.8 59,425.2" fill="#000" stroke="#000" stroke-width="0.35"/>
<polygon points="62.7,425.2 63.5,423.3 64.3,425.2" fill="#000" stroke="#000" stroke-width="0.35"/>
<path d="M173.2,425.2 L173.61,422.74 L173.9,417 L174.19,422.74 L174.6,425.2" fill="none" stroke="#000" stroke-width="0.75" stroke-linejoin="miter" stroke-miterlimit="4"/>
<path d="M192,425.2 L192.41,421.99 L192.7,414.5 L192.99,421.99 L193.4,425.2" fill="none" stroke="#000" stroke-width="0.75" stroke-linejoin="miter" stroke-miterlimit="4"/>
<path d="M204.3,425.2 L205,412.2 L205.5,286.7 L206,412.2 L206.7,425.2" fill="none" stroke="#000" stroke-width="0.75" stroke-linejoin="miter" stroke-miterlimit="4"/>
<path d="M211.6,425.2 L212.01,422.59 L212.3,416.5 L212.59,422.59 L213,425.2" fill="none" stroke="#000" stroke-width="0.75" stroke-linejoin="miter" stroke-miterlimit="4"/>
<polygon points="216.5,425.2 217.3,423.3 218.1,425.2" fill="#000" stroke="#000" stroke-width="0.35"/>
<polygon points="230.2,425.2 231.1,421.3 232,425.2" fill="#000" stroke="#000" stroke-width="0.35"/>
<polygon points="237.4,425.2 238.2,423.3 239,425.2" fill="#000" stroke="#000" stroke-width="0.35"/>
<path d="M252.5,425.2 L253.2,412.2 L253.7,338.4 L254.2,412.2 L254.9,425.2" fill="none" stroke="#000" stroke-width="0.75" stroke-linejoin="miter" stroke-miterlimit="4"/>
<polygon points="249.7,425.2 250.7,420.3 251.7,425.2" fill="#000" stroke="#000" stroke-width="0.35"/>
<polygon points="269.1,425.2 270,421.3 270.9,425.2" fill="#000" stroke="#000" stroke-width="0.35"/>
<polygon points="287.9,425.2 288.8,422.3 289.7,425.2" fill="#000" stroke="#000" stroke-width="0.35"/>
<path d="M300.3,425.2 L300.94,412.81 L301.4,383.9 L301.86,412.81 L302.5,425.2" fill="none" stroke="#000" stroke-width="0.75" stroke-linejoin="miter" stroke-miterlimit="4"/>
<polygon points="307.3,425.2 308.2,421.3 309.1,425.2" fill="#000" stroke="#000" stroke-width="0.35"/>
<polygon points="326.4,425.2 327.2,423.3 328,425.2" fill="#000" stroke="#000" stroke-width="0.35"/>
<path d="M348.4,425.2 L348.81,421.84 L349.1,414 L349.39,421.84 L349.8,425.2" fill="none" stroke="#000" stroke-width="0.75" stroke-linejoin="miter" stroke-miterlimit="4"/>
<polygon points="152.6,425.2 153.6,422.2 154.2,423.4 155.2,419.7 155.8,421.7 156.8,416.2 157.3,419.2 158.3,412.2 159.4,425.2" fill="#000" stroke="#000" stroke-width="0.3"/>
</g>
<text transform="translate(118.8,397.7) scale(1,0.96)" font-size="10.4" text-anchor="middle">575.81</text>
<text transform="translate(110.55,407.3) scale(1,0.96)" font-size="10.5">z</text>
<rect x="115.75" y="402.95" width="4.8" height="1.15" fill="#000"/>
<rect x="115.75" y="405.1" width="4.8" height="1.15" fill="#000"/>
<text transform="translate(120.85,407.3) scale(1,0.96)" font-size="10.5">2</text>
<text transform="translate(159.6,402.7) scale(1,0.96)" font-size="10.4" text-anchor="middle">576.30</text>
<text transform="translate(151.35,412) scale(1,0.96)" font-size="10.5">z</text>
<rect x="156.55" y="407.65" width="4.8" height="1.15" fill="#000"/>
<rect x="156.55" y="409.8" width="4.8" height="1.15" fill="#000"/>
<text transform="translate(161.65,412) scale(1,0.96)" font-size="10.5">2</text>
<text transform="translate(205.4,274.2) scale(1,0.96)" font-size="10.4" text-anchor="middle">576.81</text>
<text transform="translate(197.15,285) scale(1,0.96)" font-size="10.5">z</text>
<rect x="202.35" y="280.65" width="4.8" height="1.15" fill="#000"/>
<rect x="202.35" y="282.8" width="4.8" height="1.15" fill="#000"/>
<text transform="translate(207.45,285) scale(1,0.96)" font-size="10.5">2</text>
<text transform="translate(253.6,324.6) scale(1,0.96)" font-size="10.4" text-anchor="middle">577.31</text>
<text transform="translate(245.35,335.6) scale(1,0.96)" font-size="10.5">z</text>
<rect x="250.55" y="331.25" width="4.8" height="1.15" fill="#000"/>
<rect x="250.55" y="333.4" width="4.8" height="1.15" fill="#000"/>
<text transform="translate(255.65,335.6) scale(1,0.96)" font-size="10.5">2</text>
<text transform="translate(301,372.6) scale(1,0.96)" font-size="10.4" text-anchor="middle">577.81</text>
<text transform="translate(292.75,382.2) scale(1,0.96)" font-size="10.5">z</text>
<rect x="297.95" y="377.85" width="4.8" height="1.15" fill="#000"/>
<rect x="297.95" y="380" width="4.8" height="1.15" fill="#000"/>
<text transform="translate(303.05,382.2) scale(1,0.96)" font-size="10.5">2</text>
<text transform="translate(351.7,402) scale(1,0.96)" font-size="10.4" text-anchor="middle">578.31</text>
<text transform="translate(341.45,412.8) scale(1,0.96)" font-size="10.5">z</text>
<rect x="346.65" y="408.45" width="4.8" height="1.15" fill="#000"/>
<rect x="346.65" y="410.6" width="4.8" height="1.15" fill="#000"/>
<text transform="translate(351.75,412.8) scale(1,0.96)" font-size="10.5">2</text>
<text x="412.6" y="270.4" font-size="26" stroke-width="0.6">D</text>
<line x1="463.5" y1="293.7" x2="463.5" y2="430.2" stroke="#000" stroke-width="1"/>
<line x1="462" y1="429.6" x2="780" y2="429.6" stroke="#000" stroke-width="1.3"/>
<line x1="461.3" y1="293.7" x2="463.5" y2="293.7" stroke="#000" stroke-width="1"/>
<text transform="translate(458.2,297.2) scale(1,0.96)" font-size="10.3" text-anchor="end">100</text>
<line x1="461.3" y1="319.7" x2="463.5" y2="319.7" stroke="#000" stroke-width="1"/>
<text transform="translate(458.2,322.9) scale(1,0.96)" font-size="10.3" text-anchor="end">80</text>
<line x1="461.3" y1="345.7" x2="463.5" y2="345.7" stroke="#000" stroke-width="1"/>
<text transform="translate(458.2,349.6) scale(1,0.96)" font-size="10.3" text-anchor="end">60</text>
<line x1="461.3" y1="371.4" x2="463.5" y2="371.4" stroke="#000" stroke-width="1"/>
<text transform="translate(458.2,375.8) scale(1,0.96)" font-size="10.3" text-anchor="end">40</text>
<line x1="461.3" y1="402.2" x2="463.5" y2="402.2" stroke="#000" stroke-width="1"/>
<text transform="translate(458.2,406.4) scale(1,0.96)" font-size="10.3" text-anchor="end">20</text>
<line x1="461.3" y1="429.7" x2="463.5" y2="429.7" stroke="#000" stroke-width="1"/>
<text transform="translate(458.2,433.2) scale(1,0.96)" font-size="10.3" text-anchor="end">0</text>
<text transform="translate(474.8,443.1) scale(1,0.96)" font-size="10.3" text-anchor="middle">572.0</text>
<text transform="translate(524.2,443.1) scale(1,0.96)" font-size="10.3" text-anchor="middle">572.4</text>
<text transform="translate(573.6,443.1) scale(1,0.96)" font-size="10.3" text-anchor="middle">572.8</text>
<text transform="translate(623,443.1) scale(1,0.96)" font-size="10.3" text-anchor="middle">573.2</text>
<text transform="translate(672.4,443.1) scale(1,0.96)" font-size="10.3" text-anchor="middle">573.6</text>
<text transform="translate(721.8,443.1) scale(1,0.96)" font-size="10.3" text-anchor="middle">574.0</text>
<text transform="translate(771.2,443.1) scale(1,0.96)" font-size="10.3" text-anchor="middle">574.4</text>
<line x1="468.62" y1="429.6" x2="468.62" y2="431.2" stroke="#000" stroke-width="0.7"/>
<line x1="474.8" y1="429.6" x2="474.8" y2="434.2" stroke="#000" stroke-width="1.0"/>
<line x1="480.98" y1="429.6" x2="480.98" y2="431.2" stroke="#000" stroke-width="0.7"/>
<line x1="487.15" y1="429.6" x2="487.15" y2="431.2" stroke="#000" stroke-width="0.7"/>
<line x1="493.32" y1="429.6" x2="493.32" y2="431.2" stroke="#000" stroke-width="0.7"/>
<line x1="499.5" y1="429.6" x2="499.5" y2="431.4" stroke="#000" stroke-width="0.9"/>
<line x1="505.68" y1="429.6" x2="505.68" y2="431.2" stroke="#000" stroke-width="0.7"/>
<line x1="511.85" y1="429.6" x2="511.85" y2="431.2" stroke="#000" stroke-width="0.7"/>
<line x1="518.02" y1="429.6" x2="518.02" y2="431.2" stroke="#000" stroke-width="0.7"/>
<line x1="524.2" y1="429.6" x2="524.2" y2="434.2" stroke="#000" stroke-width="1.0"/>
<line x1="530.38" y1="429.6" x2="530.38" y2="431.2" stroke="#000" stroke-width="0.7"/>
<line x1="536.55" y1="429.6" x2="536.55" y2="431.2" stroke="#000" stroke-width="0.7"/>
<line x1="542.73" y1="429.6" x2="542.73" y2="431.2" stroke="#000" stroke-width="0.7"/>
<line x1="548.9" y1="429.6" x2="548.9" y2="431.4" stroke="#000" stroke-width="0.9"/>
<line x1="555.08" y1="429.6" x2="555.08" y2="431.2" stroke="#000" stroke-width="0.7"/>
<line x1="561.25" y1="429.6" x2="561.25" y2="431.2" stroke="#000" stroke-width="0.7"/>
<line x1="567.42" y1="429.6" x2="567.42" y2="431.2" stroke="#000" stroke-width="0.7"/>
<line x1="573.6" y1="429.6" x2="573.6" y2="434.2" stroke="#000" stroke-width="1.0"/>
<line x1="579.77" y1="429.6" x2="579.77" y2="431.2" stroke="#000" stroke-width="0.7"/>
<line x1="585.95" y1="429.6" x2="585.95" y2="431.2" stroke="#000" stroke-width="0.7"/>
<line x1="592.12" y1="429.6" x2="592.12" y2="431.2" stroke="#000" stroke-width="0.7"/>
<line x1="598.3" y1="429.6" x2="598.3" y2="431.4" stroke="#000" stroke-width="0.9"/>
<line x1="604.48" y1="429.6" x2="604.48" y2="431.2" stroke="#000" stroke-width="0.7"/>
<line x1="610.65" y1="429.6" x2="610.65" y2="431.2" stroke="#000" stroke-width="0.7"/>
<line x1="616.83" y1="429.6" x2="616.83" y2="431.2" stroke="#000" stroke-width="0.7"/>
<line x1="623" y1="429.6" x2="623" y2="434.2" stroke="#000" stroke-width="1.0"/>
<line x1="629.17" y1="429.6" x2="629.17" y2="431.2" stroke="#000" stroke-width="0.7"/>
<line x1="635.35" y1="429.6" x2="635.35" y2="431.2" stroke="#000" stroke-width="0.7"/>
<line x1="641.52" y1="429.6" x2="641.52" y2="431.2" stroke="#000" stroke-width="0.7"/>
<line x1="647.7" y1="429.6" x2="647.7" y2="431.4" stroke="#000" stroke-width="0.9"/>
<line x1="653.88" y1="429.6" x2="653.88" y2="431.2" stroke="#000" stroke-width="0.7"/>
<line x1="660.05" y1="429.6" x2="660.05" y2="431.2" stroke="#000" stroke-width="0.7"/>
<line x1="666.23" y1="429.6" x2="666.23" y2="431.2" stroke="#000" stroke-width="0.7"/>
<line x1="672.4" y1="429.6" x2="672.4" y2="434.2" stroke="#000" stroke-width="1.0"/>
<line x1="678.58" y1="429.6" x2="678.58" y2="431.2" stroke="#000" stroke-width="0.7"/>
<line x1="684.75" y1="429.6" x2="684.75" y2="431.2" stroke="#000" stroke-width="0.7"/>
<line x1="690.92" y1="429.6" x2="690.92" y2="431.2" stroke="#000" stroke-width="0.7"/>
<line x1="697.1" y1="429.6" x2="697.1" y2="431.4" stroke="#000" stroke-width="0.9"/>
<line x1="703.27" y1="429.6" x2="703.27" y2="431.2" stroke="#000" stroke-width="0.7"/>
<line x1="709.45" y1="429.6" x2="709.45" y2="431.2" stroke="#000" stroke-width="0.7"/>
<line x1="715.62" y1="429.6" x2="715.62" y2="431.2" stroke="#000" stroke-width="0.7"/>
<line x1="721.8" y1="429.6" x2="721.8" y2="434.2" stroke="#000" stroke-width="1.0"/>
<line x1="727.98" y1="429.6" x2="727.98" y2="431.2" stroke="#000" stroke-width="0.7"/>
<line x1="734.15" y1="429.6" x2="734.15" y2="431.2" stroke="#000" stroke-width="0.7"/>
<line x1="740.33" y1="429.6" x2="740.33" y2="431.2" stroke="#000" stroke-width="0.7"/>
<line x1="746.5" y1="429.6" x2="746.5" y2="431.4" stroke="#000" stroke-width="0.9"/>
<line x1="752.67" y1="429.6" x2="752.67" y2="431.2" stroke="#000" stroke-width="0.7"/>
<line x1="758.85" y1="429.6" x2="758.85" y2="431.2" stroke="#000" stroke-width="0.7"/>
<line x1="765.02" y1="429.6" x2="765.02" y2="431.2" stroke="#000" stroke-width="0.7"/>
<line x1="771.2" y1="429.6" x2="771.2" y2="434.2" stroke="#000" stroke-width="1.0"/>
<line x1="777.38" y1="429.6" x2="777.38" y2="431.2" stroke="#000" stroke-width="0.7"/>
<text x="596.8" y="462" font-size="14.3">m/z</text>
<text transform="translate(430.5,430.2) rotate(-90)" font-size="14.3">Relative abundance</text>
<g>
<path d="M502.5,429.6 L503.2,416.6 L503.7,351.5 L504.2,416.6 L504.9,429.6" fill="none" stroke="#000" stroke-width="0.75" stroke-linejoin="miter" stroke-miterlimit="4"/>
<path d="M544.6,429.6 L545.18,422.97 L545.6,407.5 L546.02,422.97 L546.6,429.6" fill="none" stroke="#000" stroke-width="0.75" stroke-linejoin="miter" stroke-miterlimit="4"/>
<path d="M564.7,429.6 L565.28,425.46 L565.7,415.8 L566.12,425.46 L566.7,429.6" fill="none" stroke="#000" stroke-width="0.75" stroke-linejoin="miter" stroke-miterlimit="4"/>
<path d="M586.1,429.6 L586.74,417.18 L587.2,388.2 L587.66,417.18 L588.3,429.6" fill="none" stroke="#000" stroke-width="0.75" stroke-linejoin="miter" stroke-miterlimit="4"/>
<path d="M627.5,429.6 L628.31,416.6 L628.9,294.2 L629.49,416.6 L630.3,429.6" fill="none" stroke="#000" stroke-width="0.75" stroke-linejoin="miter" stroke-miterlimit="4"/>
<path d="M669.1,429.6 L669.8,416.6 L670.3,328.4 L670.8,416.6 L671.5,429.6" fill="none" stroke="#000" stroke-width="0.75" stroke-linejoin="miter" stroke-miterlimit="4"/>
<path d="M710.6,429.6 L711.24,416.6 L711.7,378.6 L712.16,416.6 L712.8,429.6" fill="none" stroke="#000" stroke-width="0.75" stroke-linejoin="miter" stroke-miterlimit="4"/>
<path d="M752.5,429.6 L753.14,419.82 L753.6,397 L754.06,419.82 L754.7,429.6" fill="none" stroke="#000" stroke-width="0.75" stroke-linejoin="miter" stroke-miterlimit="4"/>
</g>
<text transform="translate(546.1,394.9) scale(1,0.96)" font-size="10.4" text-anchor="middle">572.58</text>
<text transform="translate(537.85,405.7) scale(1,0.96)" font-size="10.5">z</text>
<rect x="543.05" y="401.35" width="4.8" height="1.15" fill="#000"/>
<rect x="543.05" y="403.5" width="4.8" height="1.15" fill="#000"/>
<text transform="translate(548.15,405.7) scale(1,0.96)" font-size="10.5">3</text>
<text transform="translate(588.5,375.4) scale(1,0.96)" font-size="10.4" text-anchor="middle">572.92</text>
<text transform="translate(580.25,385.6) scale(1,0.96)" font-size="10.5">z</text>
<rect x="585.45" y="381.25" width="4.8" height="1.15" fill="#000"/>
<rect x="585.45" y="383.4" width="4.8" height="1.15" fill="#000"/>
<text transform="translate(590.55,385.6) scale(1,0.96)" font-size="10.5">3</text>
<text transform="translate(629.2,281.2) scale(1,0.96)" font-size="10.4" text-anchor="middle">573.25</text>
<text transform="translate(620.95,291.7) scale(1,0.96)" font-size="10.5">z</text>
<rect x="626.15" y="287.35" width="4.8" height="1.15" fill="#000"/>
<rect x="626.15" y="289.5" width="4.8" height="1.15" fill="#000"/>
<text transform="translate(631.25,291.7) scale(1,0.96)" font-size="10.5">3</text>
<text transform="translate(670.2,315.1) scale(1,0.96)" font-size="10.4" text-anchor="middle">573.59</text>
<text transform="translate(661.95,325.9) scale(1,0.96)" font-size="10.5">z</text>
<rect x="667.15" y="321.55" width="4.8" height="1.15" fill="#000"/>
<rect x="667.15" y="323.7" width="4.8" height="1.15" fill="#000"/>
<text transform="translate(672.25,325.9) scale(1,0.96)" font-size="10.5">3</text>
<text transform="translate(712.2,365.6) scale(1,0.96)" font-size="10.4" text-anchor="middle">573.92</text>
<text transform="translate(703.95,375.6) scale(1,0.96)" font-size="10.5">z</text>
<rect x="709.15" y="371.25" width="4.8" height="1.15" fill="#000"/>
<rect x="709.15" y="373.4" width="4.8" height="1.15" fill="#000"/>
<text transform="translate(714.25,375.6) scale(1,0.96)" font-size="10.5">3</text>
<text transform="translate(754.2,384.9) scale(1,0.96)" font-size="10.4" text-anchor="middle">574.26</text>
<text transform="translate(745.95,394.9) scale(1,0.96)" font-size="10.5">z</text>
<rect x="751.15" y="390.55" width="4.8" height="1.15" fill="#000"/>
<rect x="751.15" y="392.7" width="4.8" height="1.15" fill="#000"/>
<text transform="translate(756.25,394.9) scale(1,0.96)" font-size="10.5">3</text>
</svg>
</body>
</html>
